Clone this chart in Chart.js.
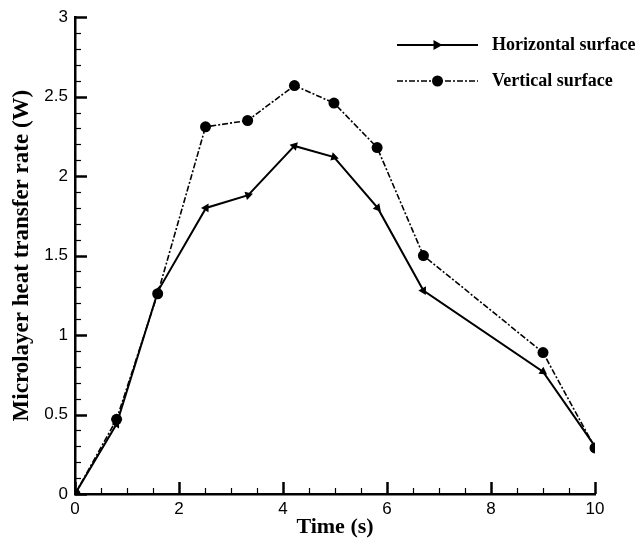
<!DOCTYPE html>
<html lang="en">
<head>
    <meta charset="UTF-8">
    <title>Microlayer heat transfer rate</title>
    <script src="https://cdn.jsdelivr.net/npm/chart.js"></script>
    <style>
        body { margin: 0; background: #fff; }
        canvas { display: block; }
    </style>
</head>
<body>
    <canvas id="chart" width="644" height="551"></canvas>

    <script>
        // data
        const seriesNames = ["Horizontal surface", "Vertical surface"];
        const timeH = [0, 0.8, 1.6, 2.52, 3.33, 4.22, 4.98, 5.82, 6.7, 9.0, 10.0];
        const rateH = [0, 0.44, 1.28, 1.80, 1.88, 2.19, 2.12, 1.80, 1.28, 0.77, 0.30];
        const timeV = [0, 0.8, 1.59, 2.51, 3.32, 4.22, 4.98, 5.81, 6.7, 9.0, 10.0];
        const rateV = [0, 0.47, 1.26, 2.31, 2.35, 2.57, 2.46, 2.18, 1.50, 0.89, 0.29];
        const xTicks = [0, 2, 4, 6, 8, 10];
        const yTicks = [0, 0.5, 1, 1.5, 2, 2.5, 3];

        const serif = "'Liberation Serif', 'Times New Roman', serif";
        const sans = "'Liberation Sans', Arial, sans-serif";
        const vDash = [6, 2, 2, 2];

        function toPoints(xs, ys) {
            return xs.map((x, i) => ({ x: x, y: ys[i] }));
        }

        // rotate the triangle so it points along the line, like the original
        function arrowRotation(ctx) {
            const chart = ctx.chart;
            const i = ctx.dataIndex;
            const j = i > 0 ? i - 1 : 1;
            const sx = chart.scales.x, sy = chart.scales.y;
            let dx = sx.getPixelForValue(timeH[i]) - sx.getPixelForValue(timeH[j]);
            let dy = sy.getPixelForValue(rateH[i]) - sy.getPixelForValue(rateH[j]);
            if (i === 0) { dx = -dx; dy = -dy; }
            return Math.atan2(dy, dx) * 180 / Math.PI + 90;
        }

        // inward major + minor ticks
        const innerTicks = {
            id: "innerTicks",
            afterDraw(chart) {
                const c = chart.ctx;
                const sx = chart.scales.x, sy = chart.scales.y;
                const area = chart.chartArea;
                c.save();
                c.strokeStyle = "#000";
                c.lineCap = "butt";
                for (let v = 0; v <= 10.001; v += 0.5) {
                    const major = Math.abs(v - Math.round(v / 2) * 2) < 1e-6;
                    const px = Math.round(sx.getPixelForValue(v)) + 0.5;
                    c.lineWidth = major ? 2.5 : 1.2;
                    c.beginPath();
                    c.moveTo(px, area.bottom);
                    c.lineTo(px, area.bottom - (major ? 12 : 6));
                    c.stroke();
                }
                for (let k = 0; k <= 30; k++) {
                    const v = k / 10;
                    const major = k % 5 === 0;
                    const py = Math.round(sy.getPixelForValue(v)) + 0.5;
                    c.lineWidth = major ? 2.5 : 1.2;
                    c.beginPath();
                    c.moveTo(area.left, py);
                    c.lineTo(area.left + (major ? 12 : 6), py);
                    c.stroke();
                }
                c.restore();
            }
        };

        // legend drawn like the original (line with marker in the middle)
        const lineLegend = {
            id: "lineLegend",
            afterDraw(chart) {
                const c = chart.ctx;
                const x0 = 397, x1 = 478, tx = 492;
                const rows = [45, 81];
                c.save();
                c.strokeStyle = "#000";
                c.fillStyle = "#000";

                c.lineWidth = 2;
                c.beginPath();
                c.moveTo(x0, rows[0]);
                c.lineTo(x1, rows[0]);
                c.stroke();
                const mx = (x0 + x1) / 2;
                c.beginPath();
                c.moveTo(mx + 5, rows[0]);
                c.lineTo(mx - 4, rows[0] - 5);
                c.lineTo(mx - 4, rows[0] + 5);
                c.closePath();
                c.fill();

                c.lineWidth = 1.5;
                c.setLineDash(vDash);
                c.beginPath();
                c.moveTo(x0, rows[1]);
                c.lineTo(x1, rows[1]);
                c.stroke();
                c.setLineDash([]);
                c.beginPath();
                c.arc(mx, rows[1], 5.5, 0, Math.PI * 2);
                c.fill();

                c.font = "bold 18px " + serif;
                c.textBaseline = "middle";
                c.textAlign = "left";
                c.fillText(seriesNames[0], tx, rows[0]);
                c.fillText(seriesNames[1], tx, rows[1]);
                c.restore();
            }
        };

        new Chart(document.getElementById("chart"), {
            type: "line",
            data: {
                datasets: [{
                    label: seriesNames[0],
                    data: toPoints(timeH, rateH),
                    borderColor: "#000",
                    backgroundColor: "#000",
                    borderWidth: 2,
                    pointStyle: "triangle",
                    pointRadius: 5,
                    pointRotation: arrowRotation,
                    pointBorderWidth: 0,
                    tension: 0
                }, {
                    label: seriesNames[1],
                    data: toPoints(timeV, rateV),
                    borderColor: "#000",
                    backgroundColor: "#000",
                    borderWidth: 1.6,
                    borderDash: vDash,
                    pointStyle: "circle",
                    pointRadius: 5.5,
                    pointBorderWidth: 0,
                    tension: 0
                }]
            },
            options: {
                responsive: false,
                animation: false,
                layout: { padding: { left: 0, right: 49, top: 17, bottom: 0 } },
                plugins: {
                    legend: { display: false },
                    tooltip: { enabled: false }
                },
                scales: {
                    x: {
                        type: "linear",
                        min: 0,
                        max: 10,
                        afterFit(scale) { scale.height = 57; },
                        afterBuildTicks(scale) { scale.ticks = xTicks.map(v => ({ value: v })); },
                        grid: { display: false, drawTicks: false },
                        border: { display: true, color: "#000", width: 2.5 },
                        ticks: {
                            padding: 5,
                            color: "#000",
                            font: { family: sans, size: 17 },
                            maxRotation: 0,
                            callback: v => String(v)
                        },
                        title: {
                            display: true,
                            text: "Time (s)",
                            color: "#000",
                            font: { family: serif, size: 22, weight: "bold" },
                            padding: { top: 0, bottom: 10 }
                        }
                    },
                    y: {
                        type: "linear",
                        min: 0,
                        max: 3,
                        afterFit(scale) { scale.width = 75; },
                        afterBuildTicks(scale) { scale.ticks = yTicks.map(v => ({ value: v })); },
                        grid: { display: false, drawTicks: false },
                        border: { display: true, color: "#000", width: 2.5 },
                        ticks: {
                            padding: 7,
                            color: "#000",
                            font: { family: sans, size: 17 },
                            callback: v => String(v)
                        },
                        title: {
                            display: true,
                            text: "Microlayer heat transfer rate (W)",
                            color: "#000",
                            font: { family: serif, size: 23, weight: "bold" },
                            padding: { top: 8, bottom: 0 }
                        }
                    }
                }
            },
            plugins: [innerTicks, lineLegend]
        });
    </script>
</body>
</html>
